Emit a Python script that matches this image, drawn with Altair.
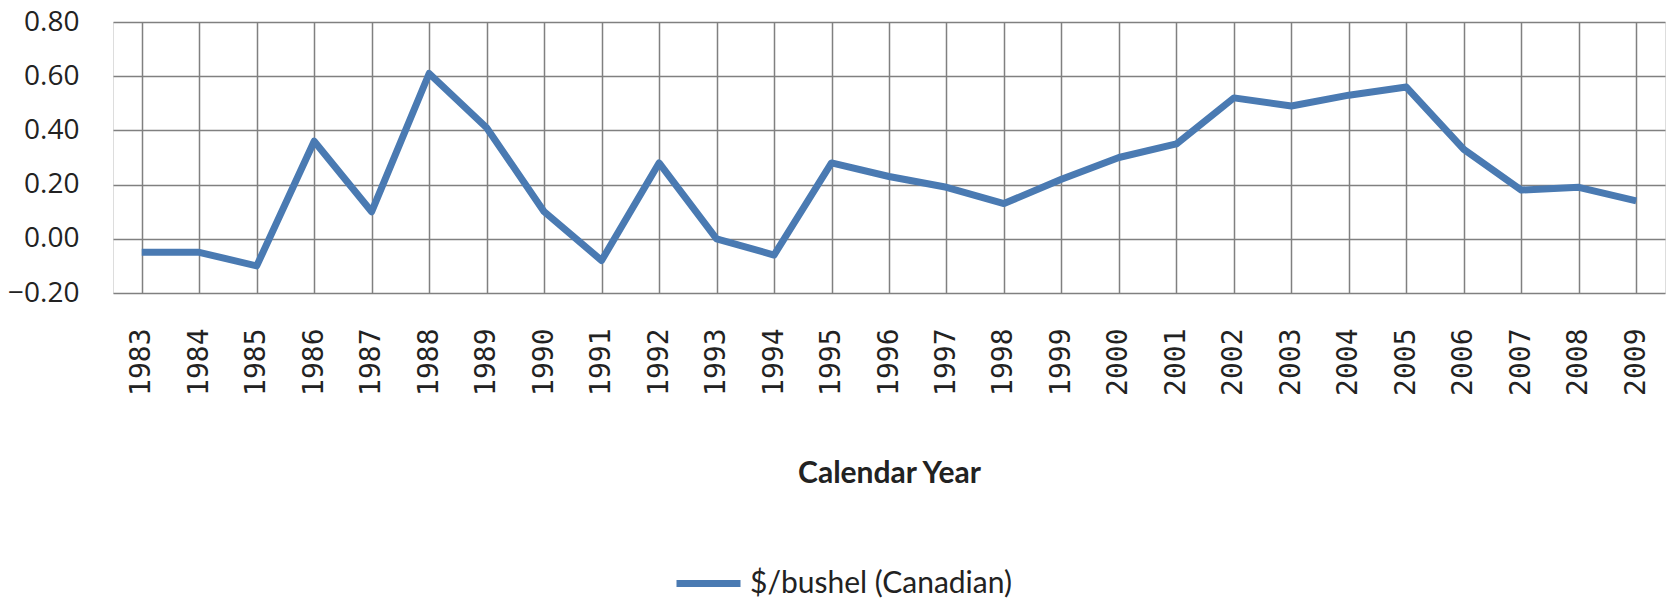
import altair as alt
import pandas as pd

years = [str(y) for y in range(1983, 2010)]
values = [-0.05, -0.05, -0.10, 0.36, 0.10, 0.61, 0.41, 0.10, -0.08, 0.28,
          0.00, -0.06, 0.28, 0.23, 0.19, 0.13, 0.22, 0.30, 0.35, 0.52,
          0.49, 0.53, 0.56, 0.33, 0.18, 0.19, 0.14]
series_name = "$/bushel (Canadian)"
y_ticks = [-0.2, 0.0, 0.2, 0.4, 0.6, 0.8]

df = pd.DataFrame({"year": years, "value": values, "series": [series_name] * len(years)})

GRID = "#808080"
LINE = "#4A7AB2"

chart = alt.Chart(df).mark_line(strokeWidth=7, strokeJoin="round").encode(
    x=alt.X("year:O", sort=years,
            scale=alt.Scale(paddingInner=0, paddingOuter=0),
            axis=alt.Axis(title="Calendar Year", labelAngle=-90, bandPosition=0,
                          grid=True, gridColor=GRID, gridWidth=1.5, gridOpacity=1,
                          ticks=False, domain=False,
                          labelFont="DejaVu Sans Mono", labelFontSize=28,
                          labelColor="#222222", labelPadding=35,
                          titleFont="Lato", titleFontSize=30, titleFontWeight="bold",
                          titleColor="#222222", titleY=180, titleBaseline="middle")),
    y=alt.Y("value:Q",
            scale=alt.Scale(domain=[-0.2, 0.8], nice=False, zero=False),
            axis=alt.Axis(title=None, values=y_ticks, format=".2f",
                          grid=True, gridColor=GRID, gridWidth=1.5, gridOpacity=1,
                          ticks=False, domain=False,
                          labelFont="Open Sans", labelFontSize=28, labelColor="#222222",
                          labelPadding=34)),
    color=alt.Color("series:N",
                    scale=alt.Scale(domain=[series_name], range=[LINE]),
                    legend=alt.Legend(title=None, orient="none", legendX=560, legendY=526,
                                      symbolType="stroke", symbolStrokeWidth=7,
                                      symbolSize=4096, labelFont="Lato", labelFontSize=30,
                                      labelLimit=500,
                                      labelColor="#222222", labelOffset=6, padding=0)),
).properties(
    width=1552,
    height=271,
    autosize=alt.AutoSizeParams(type="none"),
    padding={"left": 113, "top": 22, "right": 6, "bottom": 308},
).configure_view(
    stroke=GRID, strokeWidth=1.5
).configure(background="white")

chart.save("out.html", embed_options={"renderer": "svg", "actions": False})
